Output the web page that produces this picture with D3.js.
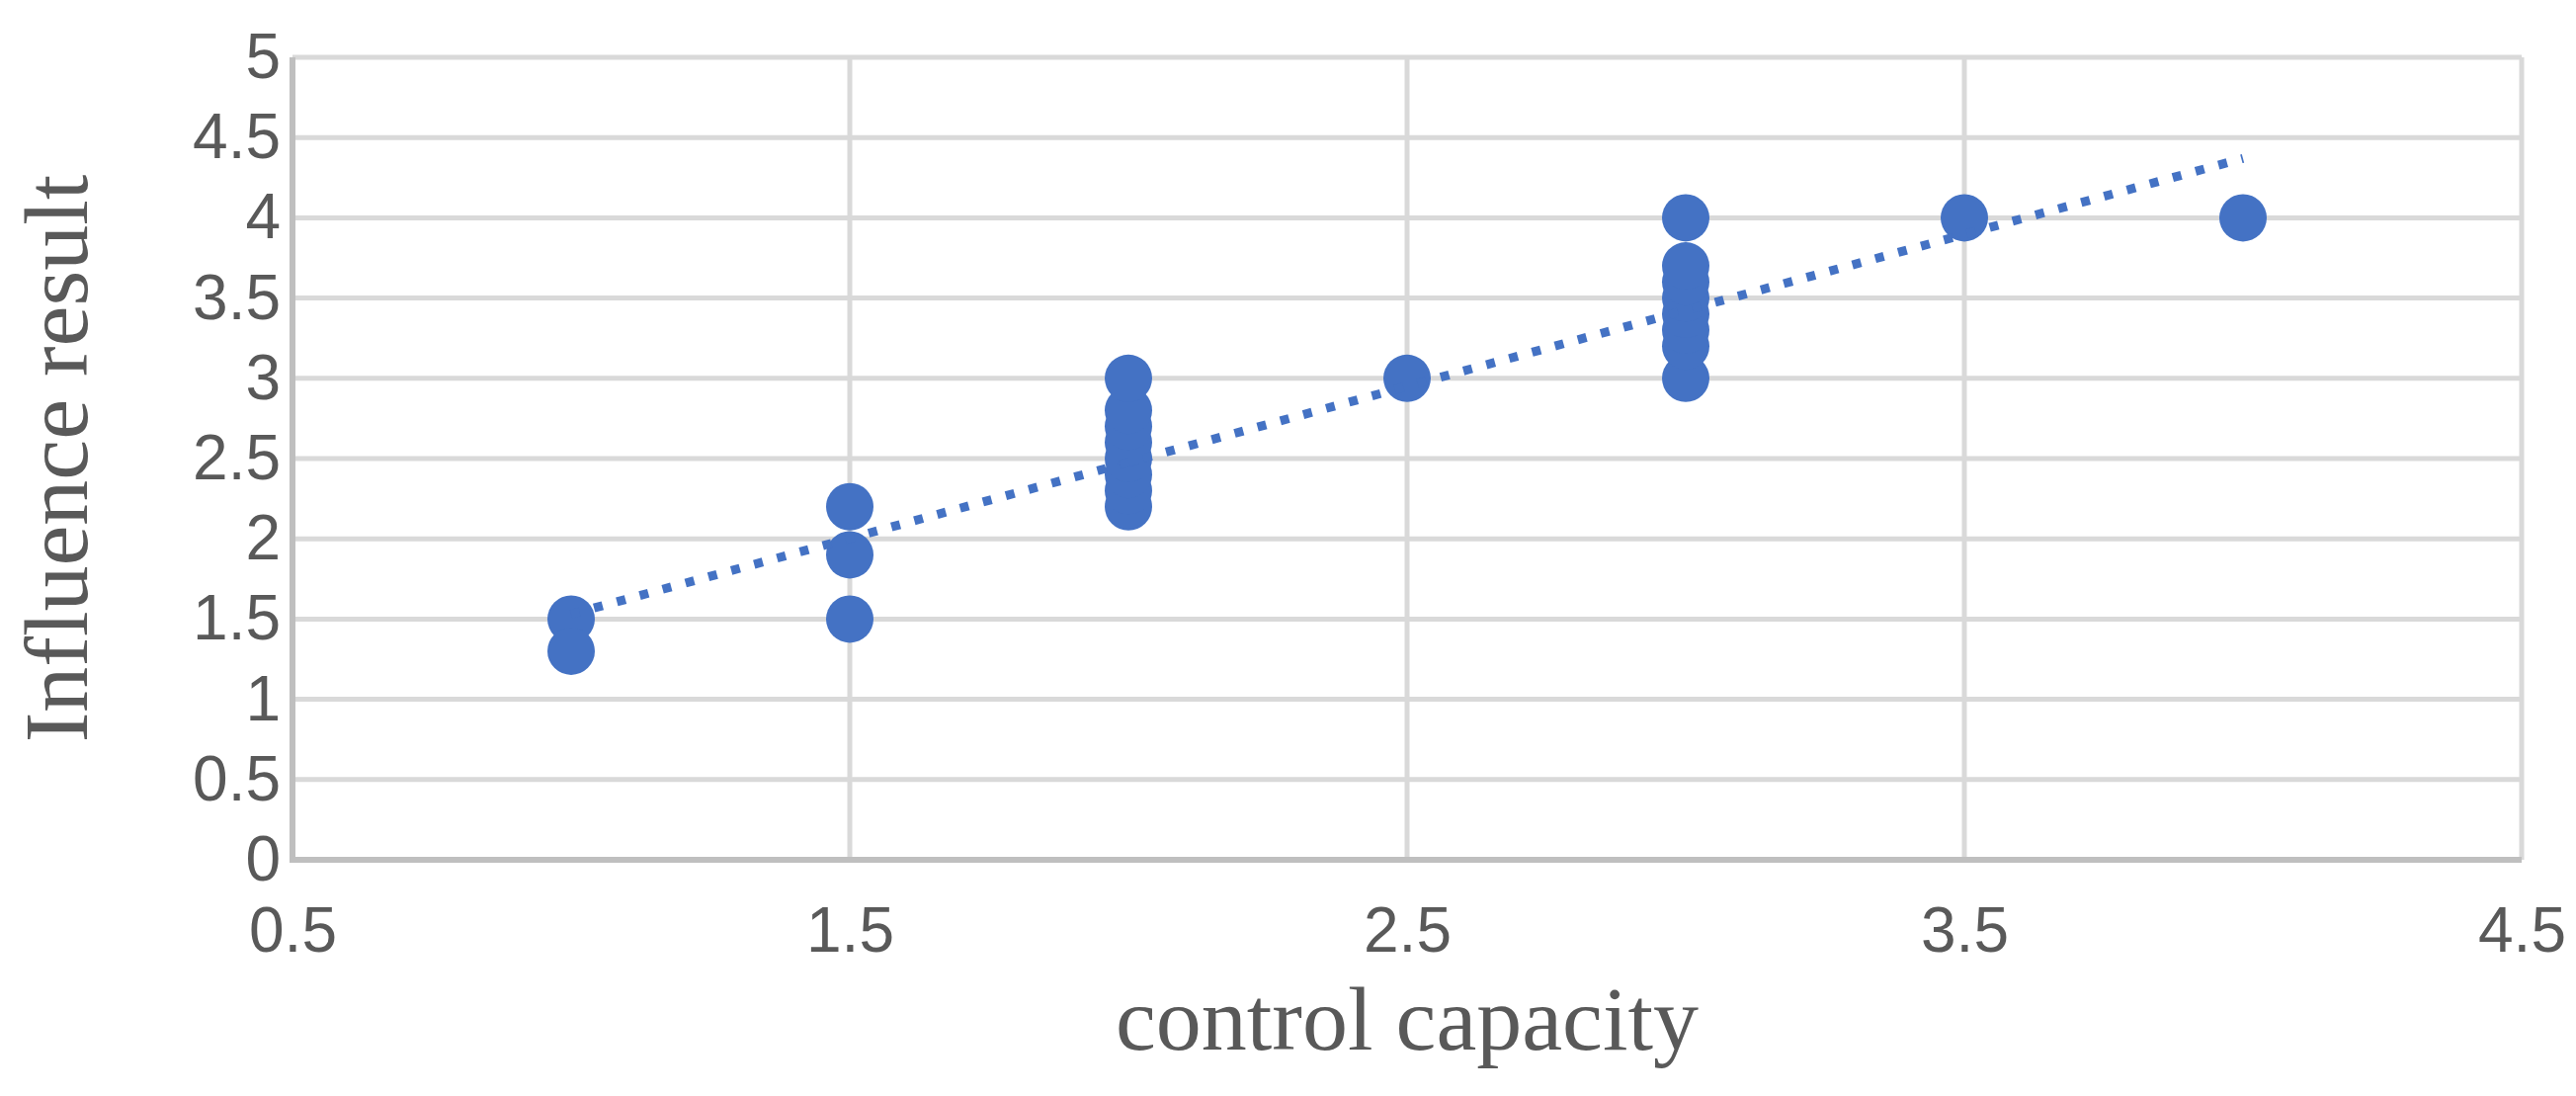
<!DOCTYPE html>
<html>
<head>
<meta charset="utf-8">
<script src="https://cdn.jsdelivr.net/npm/d3@7"></script>
<style>
  html, body { margin: 0; padding: 0; background: #fff; }
  svg { display: block; }
</style>
</head>
<body>
<svg id="chart" width="2607" height="1109"></svg>
<script>
// ---- data ----
const xValues = [1, 1, 1.5, 1.5, 1.5, 2, 2, 2, 2, 2, 2, 2, 2, 2.5, 3, 3, 3, 3, 3, 3, 3, 3, 3.5, 4];
const yValues = [1.5, 1.3, 2.2, 1.9, 1.5, 2.2, 2.3, 2.4, 2.5, 2.6, 2.7, 2.8, 3.0, 3.0, 3.0, 3.2, 3.3, 3.4, 3.5, 3.6, 3.7, 4.0, 4.0, 4.0];
const trendX = [1, 4];
const trendY = [1.53, 4.37];
const xTicks = [0.5, 1.5, 2.5, 3.5, 4.5];
const yTicks = [0, 0.5, 1, 1.5, 2, 2.5, 3, 3.5, 4, 4.5, 5];
const xTitle = "control capacity";
const yTitle = "Influence result";

const W = 2607, H = 1109;
const margin = { left: 296, right: 55, top: 58, bottom: 239 };
const iw = W - margin.left - margin.right;
const ih = H - margin.top - margin.bottom;

const svg = d3.select("#chart");
const g = svg.append("g").attr("transform", `translate(${margin.left},${margin.top})`);

const x = d3.scaleLinear().domain([0.5, 4.5]).range([0, iw]);
const y = d3.scaleLinear().domain([0, 5]).range([ih, 0]);

const gridColor = "#d9d9d9";
const axisColor = "#bfbfbf";
const textColor = "#595959";
const blue = "#4472C4";

// horizontal gridlines
g.append("g").selectAll("line").data(yTicks.filter(d => d > 0)).join("line")
  .attr("x1", 0).attr("x2", iw)
  .attr("y1", d => y(d)).attr("y2", d => y(d))
  .attr("stroke", gridColor).attr("stroke-width", 5);

// vertical gridlines
g.append("g").selectAll("line").data(xTicks.filter(d => d > 0.5)).join("line")
  .attr("x1", d => x(d)).attr("x2", d => x(d))
  .attr("y1", 0).attr("y2", ih)
  .attr("stroke", gridColor).attr("stroke-width", 5);

// axes via d3 axis generators (labels)
const yAxis = g.append("g")
  .call(d3.axisLeft(y).tickValues(yTicks).tickSize(0).tickPadding(12).tickFormat(d3.format("")));
const xAxis = g.append("g").attr("transform", `translate(0,${ih})`)
  .call(d3.axisBottom(x).tickValues(xTicks).tickSize(0).tickPadding(48).tickFormat(d3.format("")));

[yAxis, xAxis].forEach(a => {
  a.select(".domain").remove();
  a.selectAll("text")
    .attr("fill", textColor)
    .style("font-family", "'Liberation Sans Narrow', 'Liberation Sans', Arial, sans-serif")
    .style("font-size", "64px");
});

// axis lines
g.append("line").attr("x1", x(0.5)).attr("x2", x(0.5)).attr("y1", 0).attr("y2", ih + 2)
  .attr("stroke", axisColor).attr("stroke-width", 6);
g.append("line").attr("x1", x(0.5) - 3).attr("x2", x(4.5)).attr("y1", ih).attr("y2", ih)
  .attr("stroke", axisColor).attr("stroke-width", 6);

// points
g.append("g").selectAll("circle").data(d3.range(xValues.length)).join("circle")
  .attr("cx", i => x(xValues[i]))
  .attr("cy", i => y(yValues[i]))
  .attr("r", 24)
  .attr("fill", blue);

// trendline (dotted)
const line = d3.line().x(i => x(trendX[i])).y(i => y(trendY[i]));
g.append("path").datum(d3.range(trendX.length))
  .attr("d", line)
  .attr("fill", "none")
  .attr("stroke", blue)
  .attr("stroke-width", 9)
  .attr("stroke-dasharray", "9 15");

// axis titles
svg.append("text")
  .attr("x", margin.left + iw / 2)
  .attr("y", 1062)
  .attr("text-anchor", "middle")
  .attr("fill", textColor)
  .style("font-family", "'Liberation Serif', 'Times New Roman', serif")
  .style("font-size", "92px")
  .text(xTitle);

svg.append("text")
  .attr("transform", `translate(88,${margin.top + ih / 2}) rotate(-90)`)
  .attr("text-anchor", "middle")
  .attr("fill", textColor)
  .style("font-family", "'Liberation Serif', 'Times New Roman', serif")
  .style("font-size", "92px")
  .text(yTitle);
</script>
</body>
</html>
